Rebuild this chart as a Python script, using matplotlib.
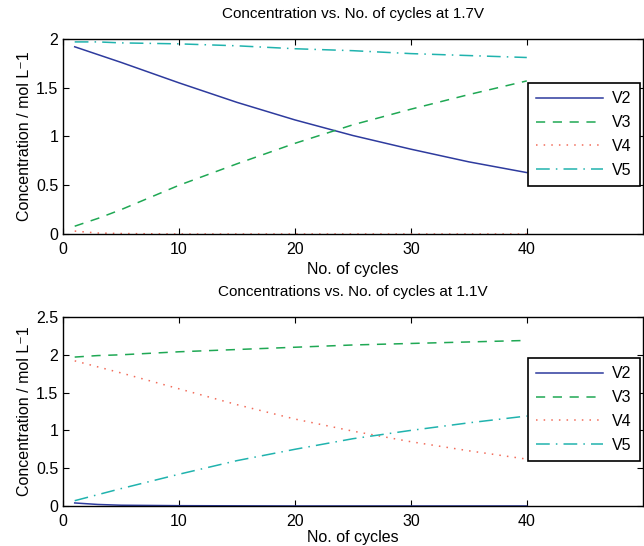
import matplotlib
matplotlib.use("Agg")
import matplotlib.pyplot as plt
from matplotlib.ticker import FormatStrFormatter

plt.rcParams['font.family'] = ['Liberation Sans', 'DejaVu Sans']
plt.rcParams['font.size'] = 11

cycles = [1, 3, 5, 10, 15, 20, 25, 30, 35, 40]

# 1.7 V
v2_hi = [1.92, 1.84, 1.76, 1.55, 1.35, 1.17, 1.01, 0.87, 0.74, 0.63]
v3_hi = [0.08, 0.16, 0.25, 0.50, 0.72, 0.93, 1.12, 1.28, 1.43, 1.57]
v4_hi = [0.03, 0.01, 0.005, 0.0, 0.0, 0.0, 0.0, 0.0, 0.0, 0.0]
v5_hi = [1.97, 1.97, 1.96, 1.95, 1.93, 1.90, 1.88, 1.85, 1.83, 1.81]

# 1.1 V
v2_lo = [0.04, 0.02, 0.01, 0.004, 0.002, 0.0, 0.0, 0.0, 0.0, 0.0]
v3_lo = [1.97, 1.99, 2.00, 2.04, 2.07, 2.10, 2.13, 2.15, 2.17, 2.19]
v4_lo = [1.92, 1.84, 1.76, 1.55, 1.34, 1.15, 0.99, 0.85, 0.73, 0.62]
v5_lo = [0.07, 0.15, 0.23, 0.42, 0.60, 0.75, 0.89, 1.00, 1.10, 1.19]

names = ['V2', 'V3', 'V4', 'V5']
colors = ['#2e3b9e', '#1fa854', '#f26c5a', '#20b3ae']
styles = ['-', (0, (6, 5)), (0, (1, 4)), (0, (9, 4, 1, 4))]

xticks = [0, 10, 20, 30, 40]
yticks_hi = [0, 0.5, 1, 1.5, 2]
yticks_lo = [0, 0.5, 1, 1.5, 2, 2.5]


def draw(ax, series, title, yticks, xpad):
    for s, name, c, ls in zip(series, names, colors, styles):
        ax.plot(cycles, s, color=c, linestyle=ls, lw=1.1, label=name)
    ax.set_xlim(0, 50)
    ax.set_ylim(yticks[0], yticks[-1])
    ax.set_xticks(xticks)
    ax.set_yticks(yticks)
    ax.yaxis.set_major_formatter(FormatStrFormatter('%g'))
    ax.tick_params(direction='in', top=True, right=True, length=4, labelsize=11.5)
    ax.tick_params(axis='x', pad=6)
    for sp in ax.spines.values():
        sp.set_linewidth(1.0)
    ax.set_title(title, fontsize=11, pad=15)
    ax.set_xlabel('No. of cycles', fontsize=11.5, labelpad=xpad)
    ax.set_ylabel('Concentration / mol L\u207b1', fontsize=11.5, labelpad=3)
    leg = ax.legend(loc='center right', bbox_to_anchor=(0.995, 0.51),
                    borderaxespad=0,
                    fancybox=False, edgecolor='black', framealpha=1,
                    handlelength=4.2, labelspacing=0.55, fontsize=11.5,
                    borderpad=0.5, handletextpad=0.6)
    leg.get_frame().set_linewidth(1.2)


fig = plt.figure(figsize=(6.44, 5.46), dpi=100)
ax1 = fig.add_axes([0.098, 0.5714, 0.90, 0.3572])
ax2 = fig.add_axes([0.098, 0.0733, 0.90, 0.3461])

draw(ax1, [v2_hi, v3_hi, v4_hi, v5_hi], 'Concentration vs. No. of cycles at 1.7V', yticks_hi, 3)
draw(ax2, [v2_lo, v3_lo, v4_lo, v5_lo], 'Concentrations vs. No. of cycles at 1.1V', yticks_lo, 0.5)

fig.savefig('out.png', dpi=100)
